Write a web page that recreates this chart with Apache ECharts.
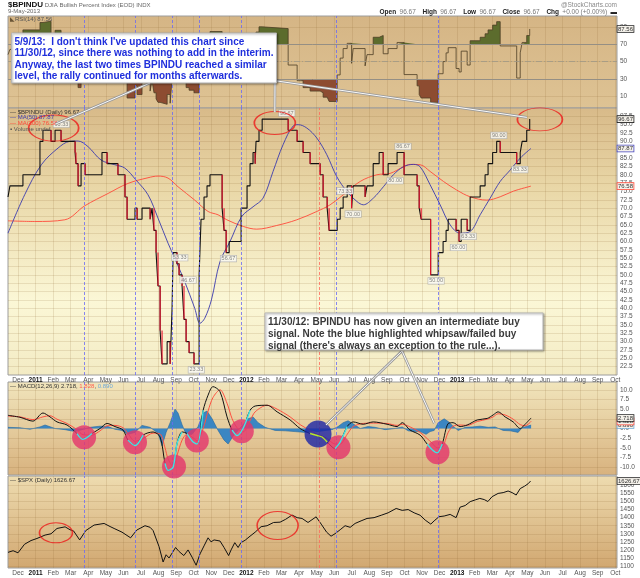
<!DOCTYPE html>
<html><head><meta charset="utf-8">
<script src="https://cdn.jsdelivr.net/npm/echarts@6/dist/echarts.min.js"></script>
<style>html,body{margin:0;padding:0;background:#fff}#c{width:640px;height:578px}</style>
</head><body><div id="c"></div><script>
// x unit: months since 1-Dec-2010 (0 = Dec 2010, 1 = Jan 2011, ...)
const monthLabels = ['Dec','2011','Feb','Mar','Apr','May','Jun','Jul','Aug','Sep','Oct','Nov','Dec','2012','Feb','Mar','Apr','May','Jun','Jul','Aug','Sep','Oct','Nov','Dec','2013','Feb','Mar','Apr','May','Jun','Jul','Aug','Sep','Oct'];
const monthTicks = monthLabels.map((_, i) => i);
const rsiTicks = [10, 30, 50, 70, 90];
const bpTicks = [22.5,25,27.5,30,32.5,35,37.5,40,42.5,45,47.5,50,52.5,55,57.5,60,62.5,65,67.5,70,72.5,75,77.5,80,82.5,85,87.5,90,92.5,95,97.5];
const macdTicks = [-10,-7.5,-5,-2.5,0,2.5,5,7.5,10];
const spxTicks = [1100,1150,1200,1250,1300,1350,1400,1450,1500,1550,1600];

// $BPINDU (step changes) and RSI(14) at the same moments
const bpTime = [-0.57,-0.46,0.28,1.25,1.42,1.88,2.11,2.45,3.25,3.30,3.42,3.59,3.82,4.78,5.07,5.69,6.09,6.21,6.66,6.78,7.06,7.52,7.63,7.74,7.86,7.97,8.09,8.20,8.49,8.66,8.77,8.83,9.05,9.17,9.34,9.45,9.57,9.74,10.02,10.31,10.42,10.59,10.76,10.93,11.62,11.73,11.85,12.02,12.70,13.04,13.21,13.38,13.50,13.55,13.72,13.90,15.38,15.89,16.23,16.63,17.20,17.37,17.60,17.71,18.17,18.34,18.51,18.74,18.99,19.08,19.76,19.87,20.22,20.56,20.79,21.07,21.58,21.98,22.72,22.84,22.95,23.49,23.92,24.20,24.37,24.49,24.94,25.11,25.23,25.57,25.74,26.31,26.59,26.76,27.02,27.25,27.45,28.39,28.59,28.70,28.96,29.13];
const bpValue = [73.33,76.67,80,90,93.33,90,93.33,90,86.67,83.33,76.67,83.33,80,86.67,83.33,80,73.33,66.67,70,66.67,70,66.67,70,63.33,56.67,46.67,33.33,23.33,30,23.33,40,56.67,53.33,50,46.67,36.67,30,26.67,23.33,50,66.67,73.33,76.67,80,70,63.33,56.67,60,70,76.67,83.33,86.67,83.33,90,93.33,96.67,93.33,90,86.67,83.33,80,73.33,70,63.33,66.67,70,73.33,76.67,70,76.67,73.33,76.67,83.33,86.67,80,83.33,86.67,80,76.67,70,66.67,50,56.67,60,63.33,66.67,63.33,60,66.67,63.33,73.33,76.67,80,83.33,86.67,90,86.67,83.33,86.67,90,93.33,96.67];
const rsiValue = [58,64,86.5,95,96.5,80,86,75,62,50,20,52,44,62,52,44,26,8,22,12,26,16,28,14,7,3,1.5,0.8,12,2,30,52,46,41,37,26,20,17,14,48,62,67,70,84.6,58,48,40,45,60,68,75,79,72,84,90,88,46,28,20,16,14,9,7,4,34.6,54,65,71,48,65,45,58,78,80,59,65,72,35,22,12,8,3,36,50,60,66,42,38,62,46,74,78,82,86.5,92,96,68,31,60,72,80,87.56];

const ma50Time = [-0.57,0.38,1.33,2.28,2.94,3.42,3.99,4.73,5.51,6.08,6.72,7.40,7.97,8.54,8.92,9.49,10.06,10.36,10.63,11.01,11.50,12.07,12.74,13.38,13.95,14.52,15.09,15.68,15.95,16.44,17.01,17.58,18.15,18.72,19.29,19.66,20.23,20.80,21.37,21.94,22.51,22.89,23.46,24.03,24.60,25.17,25.74,26.31,26.88,27.45,28.02,28.59,29.20];
const ma50Value = [62.5,74,83,88,90,90.1,88.4,84.4,83,82,78.4,74,67,59.5,55,48,40,35.5,37,42.5,54,60,67.5,70.4,73,81,89,94.7,95,94,91,86,79.4,75,72,71,73,76.4,80,82.4,83.1,82.4,77,71,65,62.5,63,68,73,78,81.4,85,87.87];
const ma200Time = [-0.57,0.95,2.66,3.80,5.13,6.26,7.40,7.97,8.54,9.11,10.06,10.82,11.39,11.89,12.83,13.59,14.73,15.87,17.01,17.77,18.52,19.48,20.43,21.18,21.94,22.32,22.89,23.46,24.22,24.98,25.74,26.69,27.45,28.21,29.20];
const ma200Value = [66.2,66,66.5,70.7,74.4,77.4,79.1,79.6,79,76.4,72.4,69,68,66.5,64.5,63.7,64.8,66.5,69,71,74,78,80,80.4,82.4,83.1,83,81,78,75.4,73.4,72.4,73.4,75.1,76.58];

const macdTime = [-0.57,0.11,0.85,1.42,1.82,2.22,2.79,3.36,3.70,4.21,4.67,5.07,5.52,5.98,6.26,6.66,7.12,7.69,8.09,8.37,8.54,8.83,9.05,9.34,9.62,9.97,10.19,10.54,10.82,11.10,11.50,11.90,12.19,12.47,12.81,13.21,13.50,14.18,14.75,15.49,16.06,16.63,17.03,17.31,17.60,18.05,18.34,18.74,19.08,19.65,20.22,21.01,21.58,21.87,22.32,22.89,23.29,23.58,23.86,24.15,24.49,24.77,25.17,25.57,26.14,26.71,27.05,27.33,27.73,28.19,28.59,28.87,29.21];
const macdValue = [3.4,2.9,1.9,4.0,3.0,1.7,0.9,-1.3,-2.8,-1.3,0,1.3,0.5,-0.4,-3.0,-4.4,-1.7,-0.9,-2.2,-9.0,-10.8,-10.0,-3.9,-0.9,-1.3,-3.5,-4.0,4.7,8.6,10.8,9.5,3.0,-0.4,-1.8,0,4.7,5.8,6.0,4.3,2.2,0,-1.3,-1.8,-2.2,-3.5,-5.2,-3.5,0.5,1.7,1.1,1.7,1.1,0.5,1.5,-0.4,-1.7,-4.0,-5.5,-6.3,-4.0,1.3,1.5,0.5,0.9,2.2,2.6,3.5,4.3,3.0,1.7,0,1.1,2.718];
const signalValue = [3.2,3.0,2.3,3.0,3.3,2.4,1.3,-0.3,-1.6,-1.7,-0.6,0.7,0.8,0.2,-1.3,-3.3,-2.6,-1.2,-1.4,-5.0,-7.8,-9.8,-7.0,-3.0,-1.5,-2.4,-3.2,0.0,4.5,8.0,10.0,6.5,2.5,0.2,-0.9,2.0,4.3,6.0,5.0,3.0,1.0,-0.5,-1.5,-1.9,-2.6,-4.0,-4.0,-1.5,0.5,1.3,1.4,1.3,0.8,1.1,0.4,-1.0,-2.6,-3.8,-5.0,-4.8,-1.0,0.6,0.9,0.8,1.8,2.4,3.0,3.8,3.5,2.4,1.0,0.7,1.828];
const histTime = [-0.57,0.11,0.68,1.25,1.54,2.11,2.68,3.25,3.64,4.10,4.67,5.13,5.52,5.92,6.26,6.66,7.06,7.52,7.97,8.20,8.43,8.66,8.94,9.11,9.34,9.57,9.91,10.25,10.54,10.76,11.05,11.39,11.73,11.96,12.24,12.53,12.81,13.10,13.38,13.67,14.07,14.64,15.21,15.77,16.34,16.74,17.08,17.48,17.88,18.22,18.51,18.79,19.08,19.48,19.93,20.33,20.90,21.47,21.87,22.21,22.55,22.89,23.23,23.46,23.69,23.92,24.26,24.49,24.72,25.06,25.46,25.85,26.31,26.77,27.16,27.62,28.02,28.47,28.70,28.99,29.21];
const histValue = [0.3,0.2,-0.2,0.4,0.9,0,-0.3,-0.8,-0.3,0.3,0.6,0.5,-0.2,-0.5,-1.5,-1.0,0.8,0.3,-1.2,-4.5,-1.0,1.5,5.0,4.0,1.0,-1.5,-1.5,0.5,4.0,4.5,2.5,-0.5,-3.0,-4.0,-2.0,-0.5,1.0,2.5,3.0,1.5,0.3,-0.5,-0.6,-0.8,-1.0,-0.6,-0.8,-0.5,-0.3,0.5,1.5,2.0,1.2,0,0.5,0.3,-0.3,0,0.4,-0.6,-0.8,-0.8,-1.5,-0.8,-0.5,1.5,2.5,1.8,0.8,-0.5,0.3,0.4,0.6,0.3,0.4,-0.5,-0.6,-1.0,0.2,0.6,0.89];

const spxTime = [-0.57,-0.28,0.00,0.37,0.74,1.08,1.54,1.88,2.22,2.68,2.96,3.16,3.51,3.86,4.33,4.90,5.24,5.47,5.92,6.41,6.76,7.23,7.52,7.69,8.03,8.26,8.43,8.60,8.97,9.17,9.44,9.68,9.91,10.14,10.36,10.59,10.82,10.99,11.16,11.50,11.73,11.99,12.13,12.34,12.53,12.69,12.93,13.15,13.50,13.84,14.18,14.55,14.92,15.24,15.60,15.89,16.17,16.51,16.97,17.26,17.57,17.82,18.04,18.34,18.62,18.91,19.19,19.53,19.87,20.27,20.71,21.07,21.53,21.87,22.21,22.55,22.89,23.18,23.50,23.69,23.97,24.26,24.60,24.94,25.17,25.46,25.74,26.03,26.29,26.54,26.75,26.99,27.33,27.62,27.90,28.13,28.36,28.59,28.84,29.04,29.18];
const spxValue = [1185,1195,1182,1235,1258,1271,1292,1300,1333,1343,1325,1318,1262,1320,1354,1364,1345,1333,1310,1275,1323,1350,1340,1320,1220,1125,1170,1150,1215,1190,1165,1200,1155,1105,1175,1225,1275,1250,1262,1255,1215,1165,1200,1245,1215,1245,1260,1280,1310,1344,1350,1370,1372,1390,1416,1400,1395,1370,1405,1360,1310,1285,1300,1325,1350,1340,1364,1380,1395,1400,1416,1430,1457,1445,1450,1430,1415,1385,1360,1380,1406,1410,1420,1400,1465,1475,1499,1510,1519,1512,1500,1530,1550,1555,1565,1555,1540,1580,1595,1610,1626.67];

// chart annotations (data coordinates)
const bpPeaks = [[2.47,93.33],[9.21,53.33],[9.68,46.67],[15.30,96.67],[18.62,73.33],[21.92,86.67],[27.37,90.00]];
const bpTroughs = [[10.15,23.33],[11.98,56.67],[19.08,70.00],[21.47,80.00],[23.80,50.00],[25.07,60.00],[25.63,63.33],[28.57,83.33]];
const blueMarkers = [3.76,6.66,8.77,10.31,12.70,18.11,23.92];
const redMarkers = [17.14];
const bpRings = [[2.03,93.99],[14.62,95.48],[29.71,96.59]];
const spxRings = [[2.16,1306],[14.78,1351]];
const macdPink = [[3.76,-2.25],[6.66,-3.54],[8.88,-9.8],[10.18,-3.1],[12.74,-0.7],[18.24,-4.83],[23.88,-6.12]];
const macdBlue = [[17.08,-1.4]];

// ---------- styles ----------
const FONT = '"Liberation Sans", Arial, sans-serif';
const gridLine = 'rgba(135,95,45,0.22)';
const bpRingSize = [[50,26],[41,23],[45,23]];
const spxRingSize = [[33,20],[41,28]];
const X_MIN = -0.57, X_MAX = 34.1;
const panels = [
  {top:16, height:92, bg:[[0,'#d5b585'],[1,'#dec394']]},
  {top:108, height:267, bg:[[0,'#d8ba89'],[0.3,'#e9d7a7'],[0.72,'#fbf7d6'],[1,'#f3ebc4']]},
  {top:382, height:93, bg:[[0,'#f1e5bc'],[1,'#d8b27e']]},
  {top:476, height:92, bg:[[0,'#eedcb0'],[1,'#d1a770']]}
];
const grad = s => ({type:'linear',x:0,y:0,x2:0,y2:1,colorStops:s.map(([o,c])=>({offset:o,color:c}))});
const pairs = (t, v) => t.map((x, i) => [x, v[i]]);
const last = a => a[a.length-1];

function xAx(i, show){
  return {type:'value', gridIndex:i, min:X_MIN, max:X_MAX,
    axisLine:{show:false}, axisTick:{show:false, customValues:monthTicks},
    splitLine:{show:true, lineStyle:{color:gridLine, width:0.7}},
    axisLabel:{show:show, customValues:monthTicks, interval:0, hideOverlap:false, margin:2,
      fontSize:6.5, fontFamily:FONT, color:'#555',
      formatter: v => { const s = monthLabels[Math.round(v)] || ''; return /^\d{4}$/.test(s) ? '{y|'+s+'}' : s; },
      rich:{y:{fontSize:6.5, fontFamily:FONT, fontWeight:'bold', color:'#111'}}}
  };
}
function yAx(i, min, max, ticks, fmt){
  return {type:'value', gridIndex:i, position:'right', min, max,
    axisLine:{show:false}, axisTick:{show:false, customValues:ticks},
    splitLine:{show:true, lineStyle:{color:gridLine, width:0.7}},
    axisLabel:{customValues:ticks, formatter:fmt, fontSize:6.5, fontFamily:FONT, color:'#555', margin:3}
  };
}
function vMarks(list, color){
  return {silent:true, symbol:['none','none'], label:{show:false},
    lineStyle:{color, type:[3,2], width:0.8}, data:list.map(v=>({xAxis:v}))};
}

const dropSegs = [];
for (let i = 1; i < bpTime.length; i++) {
  if (bpValue[i] < bpValue[i-1]) dropSegs.push([bpTime[i], bpValue[i-1]], [bpTime[i], bpValue[i]], [bpTime[i], null]);
}
function nearCircles(circles, halfWidth){
  const out = [];
  circles.forEach(c => {
    macdTime.forEach((t, i) => { if (Math.abs(t - c[0]) <= halfWidth) out.push([t, macdValue[i]]); });
    out.push([c[0], null]);
  });
  return out;
}

const chart = echarts.init(document.getElementById('c'));
const option = {
  animation:false,
  backgroundColor:'#fff',
  grid: panels.map(p => ({left:8, right:23, top:p.top, height:p.height, show:true,
        backgroundColor:grad(p.bg), borderColor:'#9c9c9c', borderWidth:1})),
  xAxis: [xAx(0,false), xAx(1,true), xAx(2,false), xAx(3,true)],
  yAxis: [
    yAx(0, -3.5, 102.5, rsiTicks, v => String(v)),
    yAx(1, 20, 100, bpTicks, v => v.toFixed(1)),
    yAx(2, -12, 12, macdTicks, v => v.toFixed(1)),
    yAx(3, 1088, 1658, spxTicks, v => String(v))
  ],
  series: [
    // ---- RSI panel
    {type:'line', xAxisIndex:0, yAxisIndex:0, step:'end', symbol:'none',
     data:bpTime.map((t,i)=>[t, Math.max(rsiValue[i],70)]), lineStyle:{width:0, opacity:0},
     areaStyle:{color:'#5c6c2d', origin:70, opacity:1}, z:2},
    {type:'line', xAxisIndex:0, yAxisIndex:0, step:'end', symbol:'none',
     data:bpTime.map((t,i)=>[t, Math.min(rsiValue[i],30)]), lineStyle:{width:0, opacity:0},
     areaStyle:{color:'#8d4c31', origin:30, opacity:1}, z:2},
    {type:'line', xAxisIndex:0, yAxisIndex:0, step:'end', symbol:'none',
     data:pairs(bpTime, rsiValue), lineStyle:{color:'#4d3d25', width:0.8}, z:4,
     markLine:{silent:true, symbol:['none','none'], label:{show:false}, data:[
       {yAxis:70, lineStyle:{color:'#958f84', width:1, type:'solid'}},
       {yAxis:30, lineStyle:{color:'#958f84', width:1, type:'solid'}},
       {yAxis:50, lineStyle:{color:'#a09886', width:0.8, type:[6,2,1,2]}}]}},
    {type:'line', xAxisIndex:0, yAxisIndex:0, data:[], markLine:vMarks(blueMarkers,'#6a6af5')},
    // ---- main panel
    {type:'line', xAxisIndex:1, yAxisIndex:1, symbol:'none', smooth:0.35,
     data:pairs(ma200Time, ma200Value), lineStyle:{color:'#ff4a3a', width:0.9}, z:3,
     markLine:vMarks(blueMarkers,'#6a6af5')},
    {type:'line', xAxisIndex:1, yAxisIndex:1, symbol:'none', smooth:0.35,
     data:pairs(ma50Time, ma50Value), lineStyle:{color:'#3a3aae', width:0.9}, z:3,
     markLine:vMarks(redMarkers,'#ff6a5a')},
    {type:'line', xAxisIndex:1, yAxisIndex:1, step:'end', symbol:'none',
     data:pairs(bpTime, bpValue), lineStyle:{color:'#111', width:1.1}, z:4},
    {type:'line', xAxisIndex:1, yAxisIndex:1, symbol:'none', connectNulls:false,
     data:dropSegs, lineStyle:{color:'#e8102c', width:1.1}, z:5},
    {type:'scatter', xAxisIndex:1, yAxisIndex:1, symbolSize:0, z:6,
     data:bpPeaks.map(p=>({value:p, label:{position:'top'}})).concat(bpTroughs.map(p=>({value:p, label:{position:'bottom'}}))),
     label:{show:true, distance:3, formatter:p=>p.value[1].toFixed(2), fontSize:5.5, fontFamily:FONT, color:'#666',
            backgroundColor:'#fbfbf6', borderColor:'#a8a8a8', borderWidth:0.6, padding:[0,1,0,1]}},
    {type:'scatter', xAxisIndex:1, yAxisIndex:1, symbol:'circle', z:7,
     data:bpRings.map((p,i)=>({value:p, symbolSize:bpRingSize[i]})),
     itemStyle:{color:'rgba(0,0,0,0)', borderColor:'#ee1a1a', borderWidth:1.3}},
    // ---- MACD panel
    {type:'line', xAxisIndex:2, yAxisIndex:2, symbol:'none',
     data:pairs(histTime, histValue), lineStyle:{color:'#23689f', width:0.6},
     areaStyle:{color:'#3b86c2', origin:0, opacity:1}, z:2,
     markLine:vMarks(blueMarkers,'#6a6af5')},
    {type:'line', xAxisIndex:2, yAxisIndex:2, symbol:'none', smooth:0.3,
     data:pairs(macdTime, signalValue), lineStyle:{color:'#ff5040', width:1}, z:3,
     markLine:vMarks(redMarkers,'#ff6a5a')},
    {type:'line', xAxisIndex:2, yAxisIndex:2, symbol:'none', smooth:0.3,
     data:pairs(macdTime, macdValue), lineStyle:{color:'#111', width:1}, z:4},
    {type:'scatter', xAxisIndex:2, yAxisIndex:2, symbol:'circle', symbolSize:24, z:5,
     data:macdPink, itemStyle:{color:'#e4346b'}},
    {type:'scatter', xAxisIndex:2, yAxisIndex:2, symbol:'circle', symbolSize:27, z:5,
     data:macdBlue, itemStyle:{color:'#1b24a6'}},
    {type:'line', xAxisIndex:2, yAxisIndex:2, symbol:'none', smooth:0.3, connectNulls:false,
     data:nearCircles(macdPink, 0.6), lineStyle:{color:'#3ee6e6', width:1.4}, z:6},
    {type:'line', xAxisIndex:2, yAxisIndex:2, symbol:'none', smooth:0.3, connectNulls:false,
     data:nearCircles(macdBlue, 0.6), lineStyle:{color:'#b8e628', width:1.4}, z:6},
    // ---- SPX panel
    {type:'line', xAxisIndex:3, yAxisIndex:3, symbol:'none',
     data:pairs(spxTime, spxValue), lineStyle:{color:'#111', width:1}, z:4,
     markLine:vMarks(blueMarkers,'#6a6af5')},
    {type:'line', xAxisIndex:3, yAxisIndex:3, data:[], markLine:vMarks(redMarkers,'#ff6a5a')},
    {type:'scatter', xAxisIndex:3, yAxisIndex:3, symbol:'circle', z:7,
     data:spxRings.map((p,i)=>({value:p, symbolSize:spxRingSize[i]})),
     itemStyle:{color:'rgba(0,0,0,0)', borderColor:'#ee1a1a', borderWidth:1.3}}
  ]
};
chart.setOption(option);

// ---------- annotations / texts ----------
const px = (g, p) => chart.convertToPixel({gridIndex:g}, p);
const G = [];
function txt(x, y, rich, parts, extra){
  G.push(Object.assign({type:'text', z:100, style:Object.assign({text:parts, x, y,
    verticalAlign:'middle', textVerticalAlign:'middle', font:'6px '+FONT, fill:'#555', rich}, extra||{})}));
}
function rs(font, fill){ return {font, fill, color:fill}; }
// header
txt(8, 5, {b:rs('bold 8px '+FONT,'#111'), g:rs('6px '+FONT,'#666')}, '{b|$BPINDU} {g|DJIA Bullish Percent Index (EOD) INDX}');
txt(8, 11.5, {g:rs('6px '+FONT,'#666')}, '{g|9-May-2013}');
G.push({type:'text', z:100, style:{text:'@StockCharts.com', x:617, y:5, align:'right', textAlign:'right', verticalAlign:'middle', textVerticalAlign:'middle', font:'6.5px '+FONT, fill:'#888'}});
const lv = last(bpValue).toFixed(2);
G.push({type:'text', z:100, style:{
  text:'{b|Open} {g|'+lv+'}  {b|High} {g|'+lv+'}  {b|Low} {g|'+lv+'}  {b|Close} {g|'+lv+'}  {b|Chg} {g|+0.00 (+0.00%)} {b|▬}',
  x:617, y:12, align:'right', textAlign:'right', verticalAlign:'middle', textVerticalAlign:'middle',
  rich:{b:rs('bold 6.5px '+FONT,'#222'), g:rs('6.5px '+FONT,'#777')}}});
// panel legends
txt(10, 19, {i:rs('6px '+FONT,'#6a5535'), g:rs('6px '+FONT,'#555')}, '{i|◣}{g|RSI(14) '+last(rsiValue).toFixed(2)+'}');
txt(10, 112, {g:rs('6px '+FONT,'#333')}, '{g|— $BPINDU (Daily) '+lv+'}');
txt(10, 117.7, {g:rs('6px '+FONT,'#3a3aae')}, '{g|— MA(50) '+last(ma50Value).toFixed(2)+'}');
txt(10, 123.4, {g:rs('6px '+FONT,'#ff4a3a')}, '{g|— MA(200) '+last(ma200Value).toFixed(2)+'}');
txt(10, 129, {g:rs('6px '+FONT,'#555')}, '{g|▪ Volume undef}');
txt(10, 386.5, {k:rs('6px '+FONT,'#333'), r:rs('6px '+FONT,'#ff6050'), b:rs('6px '+FONT,'#6fa8d8')},
  '{k|— MACD(12,26,9) '+last(macdValue).toFixed(3)+', }{r|'+last(signalValue).toFixed(3)+'}{k|, }{b|'+last(histValue).toFixed(3)+'}');
txt(10, 480.5, {g:rs('6px '+FONT,'#333')}, '{g|— $SPX (Daily) '+last(spxValue).toFixed(2)+'}');

// right-axis value boxes
function vbox(g, v, s, border){
  const p = px(g, [0, v]);
  G.push({type:'text', z:110, style:{text:s, x:617.5, y:p[1], verticalAlign:'middle', textVerticalAlign:'middle',
    font:'6px '+FONT, fill:'#333', backgroundColor:'#f4f1ea', borderColor:border, borderWidth:0.8, padding:[0,0.5,0,0.5]}});
}
vbox(0, last(rsiValue), last(rsiValue).toFixed(2), '#222');
vbox(1, last(bpValue), lv, '#222');
vbox(1, last(ma50Value), last(ma50Value).toFixed(2), '#4848c0');
vbox(1, last(ma200Value), last(ma200Value).toFixed(2), '#ff5040');
vbox(2, last(histValue), last(histValue).toFixed(3), '#6fa8d8');
vbox(2, last(signalValue), last(signalValue).toFixed(3), '#ff5040');
vbox(2, last(macdValue), last(macdValue).toFixed(3), '#222');
vbox(3, last(spxValue), last(spxValue).toFixed(2), '#222');

// callout lines
function callout(a, b){
  G.push({type:'line', z:120, shape:{x1:a[0],y1:a[1],x2:b[0],y2:b[1]}, style:{stroke:'#9a9a9a', lineWidth:2.6}});
  G.push({type:'line', z:121, shape:{x1:a[0],y1:a[1],x2:b[0],y2:b[1]}, style:{stroke:'#fafafa', lineWidth:1}});
}
const r1 = px(1, bpRings[0]), r2 = px(1, bpRings[1]), r3 = px(1, bpRings[2]);
const cb = px(2, macdBlue[0]);
callout([150, 83], [r1[0]+2, r1[1]-4]);
callout([275, 83], [r2[0], r2[1]-11]);
callout([277, 81], [r3[0]-13, r3[1]-2]);
callout([402, 351], [cb[0]+8, cb[1]-9]);
callout([402, 351], [px(2,[23.7,0])[0], px(2,[0,1.3])[1]]);

// text boxes
function box(x, y, w, h, lines, color, lh){
  G.push({type:'rect', z:130, shape:{x, y, width:w, height:h},
    style:{fill:'#ffffff', stroke:'#b5b5b5', lineWidth:1, shadowBlur:2, shadowColor:'rgba(0,0,0,0.35)', shadowOffsetX:1, shadowOffsetY:1}});
  lines.forEach((s, i) => G.push({type:'text', z:131, style:{text:s, x:x+3, y:y+lh*0.5+3.5+i*lh,
    verticalAlign:'middle', textVerticalAlign:'middle', font:'bold 10px '+FONT, fill:color}}));
}
box(11.5, 33, 265, 50, [
  "5/9/13:  I don't think I've updated this chart since",
  "11/30/12, since there was nothing to add in the interim.",
  "Anyway, the last two times BPINDU reached a similar",
  "level, the rally continued for months afterwards."], '#1f2fdc', 11.4);
box(265, 313, 278, 37, [
  "11/30/12: BPINDU has now given an intermediate buy",
  "signal. Note the blue highlighted whipsaw/failed buy",
  "signal (there's always an exception to the rule...)."], '#3a3a3a', 11.7);

chart.setOption({graphic:{elements:G}});
</script></body></html>
